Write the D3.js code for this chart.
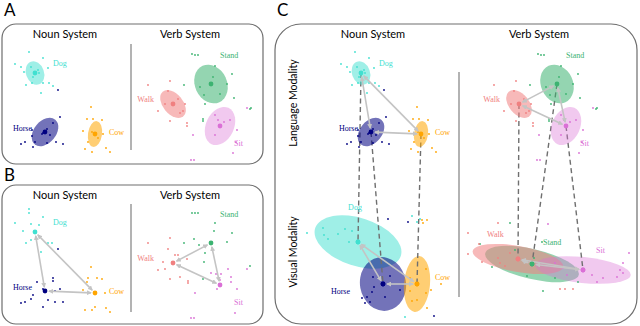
<!DOCTYPE html>
<html>
<head>
<meta charset="utf-8">
<script src="https://cdn.jsdelivr.net/npm/d3@7"></script>
<style>
  body { margin: 0; background: #fff; }
  svg { display: block; }
</style>
</head>
<body>
<script>
// concepts and colours
const nouns = ["Dog", "Horse", "Cow"];
const verbs = ["Stand", "Walk", "Sit"];
const nounColor = ["#40e0d0", "#000080", "#ffa500"];
const verbColor = ["#3cb371", "#f08080", "#da70d6"];

// cluster centres (embedding units)
const nounLang = [[30, 28], [40, 87], [90, 89]];
const verbLang = [[76, 39], [38, 59], [85, 81]];
const nounVis = [[27, 42], [52, 84], [86, 84]];
const verbVis = [[51, 64], [37, 59], [102, 70]];

// covariance ellipses: [rx, ry, angle]
const nounLangEll = [[9, 12, -20], [11, 16, 40], [7, 13, 8]];
const verbLangEll = [[16, 20, -25], [10, 16, -40], [14, 20, 25]];
const nounVisEll = [[45, 24, 18], [23, 27, -10], [13, 28, 5]];
const verbVisEll = [[48, 15, 13], [46, 13, 10], [48, 13, 6]];

// samples around each centre (language modality, panels A and C)
const nounLangPts = [
  [[-6,-21],[-20,-9],[8,-15],[13,-5],[-11,-1],[-9,12],[-3,10],[4,0],[8,10],[14,10],[18,13],[6,20],[-2,4],[-4,-6],[3,-3],[-14,-6]],
  [[15,-15],[8,-9],[-13,4],[-24,12],[-20,10],[-10,10],[2,11],[11,10],[18,12],[-12,15],[-13,-2],[-2,1],[2,-3],[5,3],[13,-42],[-1,-1],[1,0],[-3,2]],
  [[-4,-27],[-8,-15],[-2,-15],[7,-14],[-12,-3],[-3,-2],[8,0],[-10,15],[-3,18],[11,14],[15,18],[-7,8],[3,4]]
];
const verbLangPts = [
  [[-19,-30],[-16,-29],[-13,-29],[4,-18],[-27,1],[-11,3],[-7,11],[-6,20],[16,0],[21,-10],[23,14],[-8,37],[-8,35],[39,25],[2,-7],[9,10],[40,24]],
  [[-25,-19],[-3,-23],[-5,-13],[-15,7],[-3,17],[7,9],[10,7],[14,19],[14,22],[-8,0],[5,-5],[12,0]],
  [[-5,-11],[-2,-6],[4,-4],[10,-6],[-5,9],[17,4],[27,-18],[-27,9],[16,16],[-29,34],[-26,34],[13,27]]
];

// samples for panel B
const nounBPts = [
  [[-6,-23],[-6,-19],[-20,-9],[8,-15],[4,-7],[-4,-8],[-12,-1],[-9,11],[-4,8],[6,20],[13,11],[17,11]],
  [[-8,-9],[8,-13],[8,-10],[13,-42],[15,-2],[10,0],[-12,4],[-14,8],[-20,11],[-24,12],[-2,16],[3,9],[10,11],[18,11],[-2,-2]],
  [[-4,-26],[-7,-15],[2,-15],[7,-14],[-8,-11],[-12,-3],[10,0],[0,14],[-10,17],[-3,17],[11,15],[15,19]]
];
const verbBPts = [
  [[-19,-30],[-16,-30],[-13,-30],[4,-20],[3,-12],[-27,0],[-17,-4],[-12,2],[-6,10],[-7,19],[21,-10],[16,-1],[39,23],[-8,36]],
  [[-25,-20],[-3,-25],[-5,-14],[2,-8],[5,-8],[-10,-1],[-15,7],[-8,6],[-3,16],[7,14],[15,18],[15,20],[14,-4]],
  [[-9,-12],[-4,-11],[1,-11],[8,-16],[0,-5],[11,-8],[17,4],[11,-3],[-3,4],[-25,8],[27,-16],[15,28],[-29,33],[-26,33]]
];

// samples for visual modality (panel C)
const nounVisPts = [
  [[-35,-14],[-34,-7],[-30,-3],[-13,-13],[-6,-11],[-9,0],[47,75],[54,-26],[59,-20],[62,-23],[-51,-9],[-20,-8]],
  [[5,-65],[25,-62],[-10,-7],[-9,3],[-21,14],[-16,13],[-13,18],[-18,19],[2,13],[7,-8],[-11,8],[51,32],[17,6]],
  [[5,-64],[10,-64],[6,-61],[9,-15],[-7,-6],[-7,7],[0,16],[9,9],[14,6],[24,0],[10,24],[-5,17]]
];
const verbVisPts = [
  [[-22,-41],[10,-22],[-40,3],[-17,-14],[2,-6],[23,14],[-5,12],[11,27],[46,18],[-52,-20]],
  [[-50,-26],[-50,-5],[-39,-15],[-36,3],[-20,-36],[-8,-6],[-20,-1],[-18,4],[42,30],[47,30],[55,30],[-13,7]],
  [[-35,-46],[46,-17],[37,0],[40,3],[34,7],[20,8],[14,12],[9,5],[-16,5],[-28,-7],[-20,-2],[40,-7]]
];

// relational arrows between concepts (indices)
const nounLinks = [[0, 1], [0, 2], [2, 1]];
const verbLinks = [[0, 1], [1, 2], [0, 2]];

// ---- layout ----
const svg = d3.select("body").append("svg")
  .attr("width", 640)
  .attr("height", 326);

svg.append("defs").append("marker")
  .attr("id", "arr")
  .attr("viewBox", "0 0 6 6")
  .attr("refX", 5).attr("refY", 3)
  .attr("markerWidth", 5).attr("markerHeight", 5)
  .attr("markerUnits", "userSpaceOnUse")
  .attr("orient", "auto-start-reverse")
  .append("path")
  .attr("d", "M0,0L6,3L0,6Z")
  .attr("fill", "#c4c4c4");

const frames = [
  { x: 2, y: 24, w: 261, h: 140, r: 14 },
  { x: 2, y: 185, w: 261, h: 139, r: 14 },
  { x: 275, y: 24, w: 362, h: 300, r: 26 }
];
svg.selectAll(".frame")
  .data(frames)
  .enter().append("rect")
  .attr("class", "frame")
  .attr("x", d => d.x).attr("y", d => d.y)
  .attr("width", d => d.w).attr("height", d => d.h)
  .attr("rx", d => d.r)
  .attr("fill", "none")
  .attr("stroke", "#6e6e6e")
  .attr("stroke-width", 1.2);

const dividers = [[131, 44, 150], [131, 204, 312], [459, 72, 297]];
svg.selectAll(".div")
  .data(dividers)
  .enter().append("line")
  .attr("x1", d => d[0]).attr("x2", d => d[0])
  .attr("y1", d => d[1]).attr("y2", d => d[2])
  .attr("stroke", "#9a9a9a")
  .attr("stroke-width", 1.5);

const letters = [["A", 4, 16], ["B", 4, 181], ["C", 277, 16]];
svg.selectAll(".letter")
  .data(letters)
  .enter().append("text")
  .attr("x", d => d[1]).attr("y", d => d[2])
  .attr("font-family", "Lato, sans-serif")
  .attr("font-size", 17)
  .text(d => d[0]);

const titles = [
  ["Noun System", 65, 38], ["Verb System", 190, 38],
  ["Noun System", 65, 199], ["Verb System", 190, 199],
  ["Noun System", 373, 38], ["Verb System", 539, 38]
];
svg.selectAll(".title")
  .data(titles)
  .enter().append("text")
  .attr("x", d => d[1]).attr("y", d => d[2])
  .attr("text-anchor", "middle")
  .attr("font-family", "Lato, sans-serif")
  .attr("font-size", 11)
  .text(d => d[0]);

[["Language Modality", 103], ["Visual Modality", 252]].forEach(d => {
  svg.append("text")
    .attr("transform", "translate(297," + d[1] + ") rotate(-90)")
    .attr("text-anchor", "middle")
    .attr("font-family", "Lato, sans-serif")
    .attr("font-size", 10.5)
    .text(d[0]);
});

// label offsets (px) from centre: [dx, dy, anchor]
const nounLangLab = [[18, -7, "start"], [-13, -1, "end"], [14, 1, "start"]];
const verbLangLab = [[9, -26, "start"], [-19, -2, "end"], [14, 20, "start"]];
const nounVisLab = [[-3, -32, "middle"], [-33, 10, "end"], [18, -4, "start"]];
const verbVisLab = [[11, -19, "start"], [-31, -22, "start"], [13, -17, "start"]];

function scales(ox, oy) {
  return {
    x: d3.scaleLinear().domain([0, 100]).range([ox, ox + 100]),
    y: d3.scaleLinear().domain([0, 100]).range([oy, oy + 100])
  };
}

function drawSystem(s, o) {
  const g = svg.append("g");
  const { x, y } = s;
  const cx = i => x(o.centers[i][0]);
  const cy = i => y(o.centers[i][1]);
  if (o.ell) {
    g.selectAll(".ell")
      .data(o.ell)
      .enter().append("ellipse")
      .attr("transform", (d, i) => "translate(" + cx(i) + "," + cy(i) + ") rotate(" + d[2] + ")")
      .attr("rx", d => x(d[0]) - x(0))
      .attr("ry", d => y(d[1]) - y(0))
      .attr("fill", (d, i) => o.colors[i])
      .attr("fill-opacity", (d, i) => o.alpha[i]);
  }
  o.pts.forEach((pts, i) => {
    g.selectAll(".p" + i)
      .data(pts)
      .enter().append("circle")
      .attr("cx", d => x(o.centers[i][0] + d[0]))
      .attr("cy", d => y(o.centers[i][1] + d[1]))
      .attr("r", 0.9)
      .attr("fill", o.colors[i]);
  });
  if (o.links) {
    g.selectAll(".link")
      .data(o.links)
      .enter().append("line")
      .each(function(d) {
        const x1 = cx(d[0]), y1 = cy(d[0]), x2 = cx(d[1]), y2 = cy(d[1]);
        const len = Math.hypot(x2 - x1, y2 - y1), ux = (x2 - x1) / len, uy = (y2 - y1) / len;
        d3.select(this)
          .attr("x1", x1 + ux * 4).attr("y1", y1 + uy * 4)
          .attr("x2", x2 - ux * 4).attr("y2", y2 - uy * 4);
      })
      .attr("stroke", "#c4c4c4")
      .attr("stroke-width", 1.6)
      .attr("marker-start", "url(#arr)")
      .attr("marker-end", "url(#arr)");
  }
  g.selectAll(".c")
    .data(o.centers)
    .enter().append("circle")
    .attr("cx", d => x(d[0]))
    .attr("cy", d => y(d[1]))
    .attr("r", 2.4)
    .attr("fill", (d, i) => o.colors[i]);
  g.selectAll(".lab")
    .data(o.names)
    .enter().append("text")
    .attr("x", (d, i) => cx(i) + o.lab[i][0])
    .attr("y", (d, i) => cy(i) + o.lab[i][1])
    .attr("text-anchor", (d, i) => o.lab[i][2])
    .attr("font-family", "'Liberation Serif', serif")
    .attr("font-size", 8)
    .attr("fill", (d, i) => o.colors[i])
    .text(d => d);
  return g;
}

const nounAlpha = [0.5, 0.55, 0.55];
const verbAlpha = [0.55, 0.55, 0.38];

// panel A
drawSystem(scales(5, 45), { names: nouns, colors: nounColor, alpha: nounAlpha, centers: nounLang, ell: nounLangEll, pts: nounLangPts, lab: nounLangLab });
drawSystem(scales(135, 45), { names: verbs, colors: verbColor, alpha: verbAlpha, centers: verbLang, ell: verbLangEll, pts: verbLangPts, lab: verbLangLab });

// panel B
drawSystem(scales(5, 204), { names: nouns, colors: nounColor, centers: nounLang, pts: nounBPts, links: nounLinks, lab: nounLangLab });
drawSystem(scales(135, 204), { names: verbs, colors: verbColor, centers: verbLang, pts: verbBPts, links: verbLinks, lab: verbLangLab });

// panel C: visual ellipses, then dashed correspondences, then the rest on top
const cLN = scales(331, 45), cLV = scales(481, 45), cVN = scales(331, 200), cVV = scales(481, 200);
const noLab = [[0, 0, "start"], [0, 0, "start"], [0, 0, "start"]];
drawSystem(cVN, { names: nouns, colors: nounColor, alpha: nounAlpha, centers: nounVis, ell: nounVisEll, pts: [[], [], []], lab: noLab }).selectAll("text").remove();
drawSystem(cVV, { names: verbs, colors: verbColor, alpha: verbAlpha, centers: verbVis, ell: verbVisEll, pts: [[], [], []], lab: noLab }).selectAll("text").remove();

const dash = svg.append("g");
[[cLN, cVN, nounLang, nounVis], [cLV, cVV, verbLang, verbVis]].forEach(([a, b, la, vi]) => {
  la.forEach((c, i) => {
    dash.append("line")
      .attr("x1", a.x(c[0])).attr("y1", a.y(c[1]))
      .attr("x2", b.x(vi[i][0])).attr("y2", b.y(vi[i][1]))
      .attr("stroke", "#6f6f6f")
      .attr("stroke-width", 1.4)
      .attr("stroke-dasharray", "5,3.5");
  });
});

drawSystem(cLN, { names: nouns, colors: nounColor, alpha: nounAlpha, centers: nounLang, ell: nounLangEll, pts: nounLangPts, links: nounLinks, lab: nounLangLab });
drawSystem(cLV, { names: verbs, colors: verbColor, alpha: verbAlpha, centers: verbLang, ell: verbLangEll, pts: verbLangPts, links: verbLinks, lab: verbLangLab });
drawSystem(cVN, { names: nouns, colors: nounColor, centers: nounVis, pts: nounVisPts, links: nounLinks, lab: nounVisLab });
drawSystem(cVV, { names: verbs, colors: verbColor, centers: verbVis, pts: verbVisPts, links: verbLinks, lab: verbVisLab });
</script>
</body>
</html>
